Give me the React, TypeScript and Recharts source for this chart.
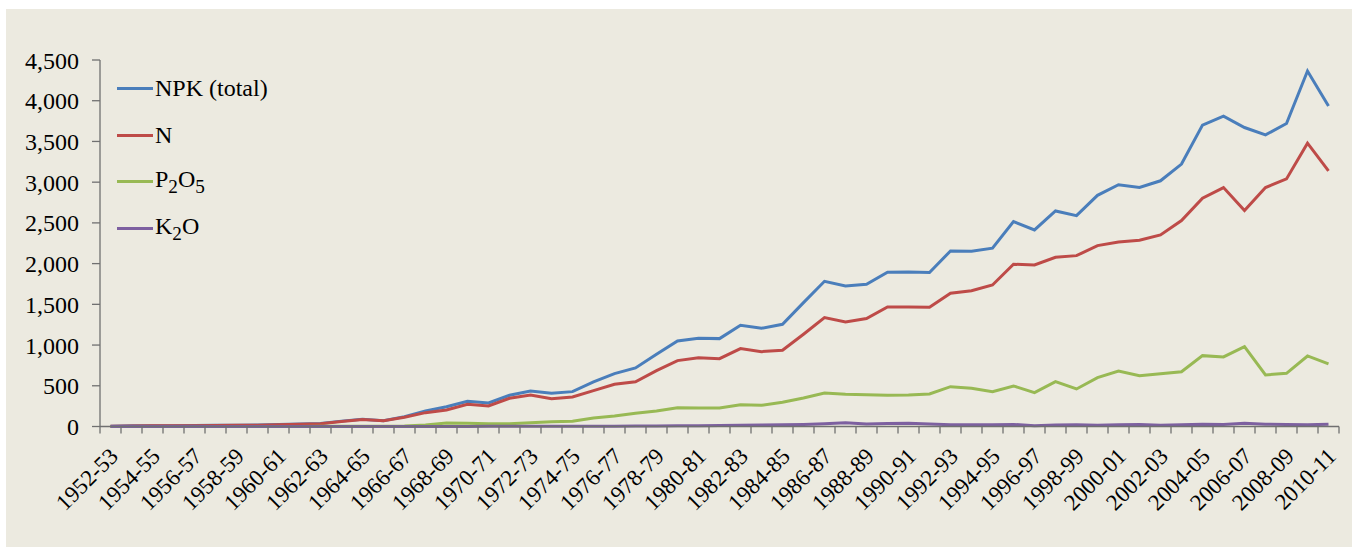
import { LineChart, Line, XAxis, YAxis } from 'recharts'

// fertilizer offtake, thousand nutrient tonnes
const years = [
  '1952-53', '1953-54', '1954-55', '1955-56', '1956-57', '1957-58', '1958-59', '1959-60',
  '1960-61', '1961-62', '1962-63', '1963-64', '1964-65', '1965-66', '1966-67', '1967-68',
  '1968-69', '1969-70', '1970-71', '1971-72', '1972-73', '1973-74', '1974-75', '1975-76',
  '1976-77', '1977-78', '1978-79', '1979-80', '1980-81', '1981-82', '1982-83', '1983-84',
  '1984-85', '1985-86', '1986-87', '1987-88', '1988-89', '1989-90', '1990-91', '1991-92',
  '1992-93', '1993-94', '1994-95', '1995-96', '1996-97', '1997-98', '1998-99', '1999-00',
  '2000-01', '2001-02', '2002-03', '2003-04', '2004-05', '2005-06', '2006-07', '2007-08',
  '2008-09', '2009-10', '2010-11',
]

const npk = [
  3, 8, 10, 10, 12, 14, 16, 18, 25, 30, 38, 66, 88, 72, 121, 190,
  243, 309, 289, 383, 436, 408, 428, 547, 650, 719, 887, 1050, 1083, 1079, 1243, 1206,
  1255, 1521, 1783, 1726, 1746, 1894, 1896, 1890, 2156, 2152, 2189, 2515, 2413, 2646, 2589, 2838,
  2968, 2936, 3017, 3222, 3700, 3810, 3671, 3581, 3720, 4365, 3936,
]

const nitrogen = [
  2, 6, 8, 8, 10, 12, 14, 16, 22, 27, 35, 62, 85, 70, 113, 170,
  203, 272, 252, 346, 387, 342, 362, 440, 518, 550, 686, 809, 845, 833, 956, 919,
  936, 1132, 1337, 1284, 1325, 1468, 1468, 1464, 1636, 1668, 1738, 1992, 1984, 2078, 2098, 2221,
  2266, 2287, 2352, 2528, 2803, 2934, 2651, 2934, 3040, 3479, 3139,
]

const phosphate = [
  0, 0, 0, 0, 0, 0, 0, 0, 1, 1, 2, 2, 2, 2, 5, 18,
  43, 39, 35, 35, 47, 59, 64, 104, 128, 162, 190, 231, 227, 227, 268, 260,
  297, 350, 411, 395, 391, 383, 387, 399, 489, 469, 428, 498, 415, 551, 461, 600,
  682, 624, 649, 673, 870, 854, 980, 633, 653, 866, 768,
]

const potash = [
  0, 0, 0, 0, 0, 0, 0, 0, 0, 0, 0, 0, 0, 0, 0, 1,
  1, 1, 2, 2, 2, 3, 3, 4, 4, 5, 6, 8, 10, 12, 15, 18,
  20, 25, 35, 45, 30, 38, 40, 30, 20, 22, 20, 25, 10, 18, 20, 16,
  20, 25, 16, 20, 27, 25, 40, 28, 25, 20, 29,
]

const yTicks = [0, 500, 1000, 1500, 2000, 2500, 3000, 3500, 4000, 4500]

const sub = { fontSize: '0.8em' }
const series = [
  { key: 'npk', color: '#4A7EBB', label: <>NPK (total)</> },
  { key: 'n', color: '#BE4B48', label: <>N</> },
  { key: 'p2o5', color: '#98B954', label: <>P<sub style={sub}>2</sub>O<sub style={sub}>5</sub></> },
  { key: 'k2o', color: '#7D60A0', label: <>K<sub style={sub}>2</sub>O</> },
]

const data = years.map((year, i) => ({
  i,
  year,
  npk: npk[i],
  n: nitrogen[i],
  p2o5: phosphate[i],
  k2o: potash[i],
}))

// tick marks sit between categories, labels on every other category
const boundaryTicks = years.map((_, i) => i - 0.5).concat(years.length - 0.5)
const labelTicks = years.map((_, i) => i).filter((i) => i % 2 === 0)

const FONT = "'Liberation Serif'"
const AXIS = '#707070'

// eslint-disable-next-line @typescript-eslint/no-explicit-any
function YearTick({ x, y, payload }: any) {
  const tx = x + 9
  const ty = y + 23
  return (
    <text
      x={tx}
      y={ty}
      transform={`rotate(-45 ${tx} ${ty})`}
      textAnchor="end"
      fontFamily={FONT}
      fontSize={23}
      fill="#000"
    >
      {years[payload.value]}
    </text>
  )
}

function LegendBox() {
  return (
    <div style={{ position: 'absolute', left: 111, top: 56, fontFamily: FONT, fontSize: 24, color: '#000' }}>
      {series.map((s) => (
        <div key={s.key} style={{ display: 'flex', alignItems: 'center', height: 46.7 }}>
          <div style={{ width: 36, height: 3, background: s.color, marginRight: 2 }} />
          <span style={{ lineHeight: 1, whiteSpace: 'nowrap' }}>{s.label}</span>
        </div>
      ))}
    </div>
  )
}

export default function App() {
  return (
    <div style={{ position: 'absolute', left: 0, top: 0, width: 1355, height: 547, background: '#fff' }}>
      <div style={{ position: 'absolute', left: 6, top: 9, width: 1346, height: 538, background: '#ECEAE0' }}>
        <LineChart width={1346} height={538} data={data} margin={{ top: 51, right: 13, left: 0, bottom: 12.5 }}>
          <XAxis
            xAxisId="a"
            dataKey="i"
            type="number"
            domain={[-0.5, 58.5]}
            ticks={boundaryTicks}
            interval={0}
            tick={() => <g />}
            tickSize={7}
            height={8}
            axisLine={{ stroke: AXIS, strokeWidth: 1.3 }}
            tickLine={{ stroke: AXIS, strokeWidth: 1.3 }}
          />
          <XAxis
            xAxisId="b"
            dataKey="i"
            type="number"
            domain={[-0.5, 58.5]}
            ticks={labelTicks}
            interval={0}
            tick={<YearTick />}
            tickSize={0}
            tickMargin={0}
            tickLine={false}
            axisLine={false}
            height={100}
          />
          <YAxis
            domain={[0, 4500]}
            ticks={yTicks}
            width={94}
            tickSize={8}
            tickMargin={13}
            tickFormatter={(v) => v.toLocaleString('en-US')}
            tick={{ fontFamily: FONT, fontSize: 24, fill: '#000' }}
            axisLine={{ stroke: AXIS, strokeWidth: 1.3 }}
            tickLine={{ stroke: AXIS, strokeWidth: 1.3 }}
          />
          {series.map((s) => (
            <Line
              key={s.key}
              xAxisId="a"
              dataKey={s.key}
              stroke={s.color}
              strokeWidth={3}
              dot={false}
              type="linear"
              isAnimationActive={false}
            />
          ))}
        </LineChart>
        <LegendBox />
      </div>
    </div>
  )
}
